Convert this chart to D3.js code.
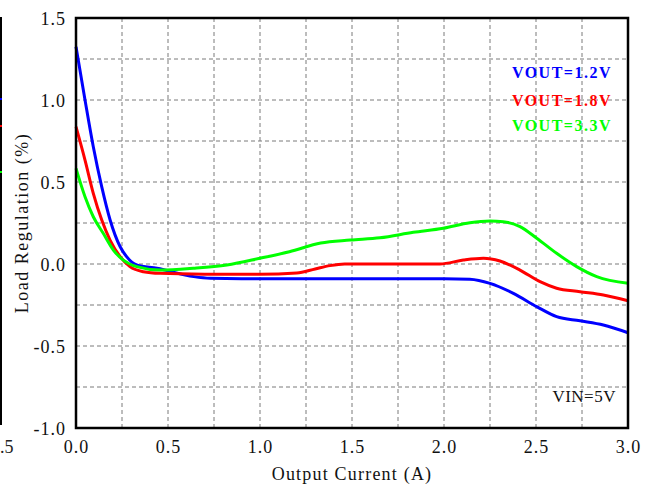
<!DOCTYPE html>
<html>
<head>
<meta charset="utf-8">
<script src="https://cdn.jsdelivr.net/npm/d3@7"></script>
<style>
  html, body { margin: 0; padding: 0; background: #fff; }
  svg { display: block; }
  text { font-family: "Liberation Serif", "Times New Roman", serif; }
</style>
</head>
<body>
<svg id="chart" width="651" height="488"></svg>
<script>
// Load regulation vs output current, VIN = 5V
const current1v2 = [0, 0.049, 0.094, 0.14, 0.185, 0.24, 0.275, 0.33, 0.44, 0.64, 0.73, 0.9, 1.2, 1.6, 2.0, 2.14, 2.25, 2.377, 2.504, 2.612, 2.739, 2.866, 3.0];
const reg1v2     = [1.325, 1.0, 0.715, 0.47, 0.27, 0.105, 0.045, -0.006, -0.026, -0.077, -0.087, -0.09, -0.09, -0.09, -0.09, -0.093, -0.118, -0.179, -0.26, -0.321, -0.346, -0.372, -0.419];

const current1v8 = [0, 0.049, 0.094, 0.14, 0.185, 0.24, 0.293, 0.366, 0.457, 0.7, 1.0, 1.2, 1.3, 1.38, 1.46, 1.65, 1.978, 2.105, 2.214, 2.304, 2.413, 2.522, 2.612, 2.739, 2.866, 3.0];
const reg1v8     = [0.837, 0.634, 0.431, 0.268, 0.146, 0.045, -0.016, -0.047, -0.057, -0.062, -0.063, -0.055, -0.03, -0.01, 0.0, 0.0, 0.0, 0.024, 0.035, 0.018, -0.037, -0.108, -0.148, -0.169, -0.189, -0.224];

const current3v3 = [0, 0.049, 0.094, 0.148, 0.203, 0.257, 0.33, 0.457, 0.638, 0.82, 1.0, 1.16, 1.33, 1.49, 1.652, 1.833, 1.996, 2.141, 2.25, 2.322, 2.413, 2.504, 2.612, 2.721, 2.83, 3.0];
const reg3v3     = [0.583, 0.41, 0.288, 0.187, 0.085, 0.024, -0.016, -0.037, -0.026, -0.006, 0.035, 0.075, 0.128, 0.146, 0.16, 0.193, 0.218, 0.252, 0.262, 0.258, 0.228, 0.157, 0.065, -0.016, -0.077, -0.118];

const seriesNames  = ["VOUT=1.2V", "VOUT=1.8V", "VOUT=3.3V"];
const seriesColors = ["#0000ff", "#ff0000", "#00ff00"];

const xTicks = [0, 0.5, 1.0, 1.5, 2.0, 2.5, 3.0];
const yTicks = [1.5, 1.0, 0.5, 0.0, -0.5, -1.0];
const xGrid = d3.range(0, 3.0001, 0.25);
const yGrid = d3.range(-1.0, 1.5001, 0.25);

const series = [
  { name: seriesNames[0], color: seriesColors[0], pts: current1v2.map((c, i) => [c, reg1v2[i]]) },
  { name: seriesNames[1], color: seriesColors[1], pts: current1v8.map((c, i) => [c, reg1v8[i]]) },
  { name: seriesNames[2], color: seriesColors[2], pts: current3v3.map((c, i) => [c, reg3v3[i]]) }
];

const svg = d3.select("#chart");
const plotLeft = 76, plotRight = 628, plotTop = 18, plotBottom = 428;

const x = d3.scaleLinear().domain([0, 3]).range([plotLeft, plotRight]);
const y = d3.scaleLinear().domain([-1, 1.5]).range([plotBottom, plotTop]);

// fragment of a neighbouring panel at the left edge
svg.append("line").attr("x1", 1).attr("x2", 1).attr("y1", 17).attr("y2", 425)
  .attr("stroke", "#000").attr("stroke-width", 2);
[[99, "#0000ff"], [126, "#ff0000"], [172, "#00ff00"]].forEach(([yy, c]) => {
  svg.append("line").attr("x1", 0).attr("x2", 2).attr("y1", yy).attr("y2", yy)
    .attr("stroke", c).attr("stroke-width", 2);
});
svg.append("text").attr("x", 0).attr("y", 453).attr("text-anchor", "start")
  .attr("font-size", 18).attr("fill", "#222").text(".5");

// dashed grid
const grid = svg.append("g").attr("stroke", "#7a7a7a").attr("stroke-width", 1)
  .attr("stroke-dasharray", "4,3");
xGrid.filter(v => v > 0 && v < 3).forEach(v => {
  grid.append("line").attr("x1", x(v)).attr("x2", x(v)).attr("y1", plotTop).attr("y2", plotBottom);
});
yGrid.filter(v => v > -1 && v < 1.5).forEach(v => {
  grid.append("line").attr("x1", plotLeft).attr("x2", plotRight).attr("y1", y(v)).attr("y2", y(v));
});

// curves
const line = d3.line().x(d => x(d[0])).y(d => y(d[1])).curve(d3.curveMonotoneX);
series.forEach(s => {
  svg.append("path").datum(s.pts).attr("d", line)
    .attr("fill", "none").attr("stroke", s.color).attr("stroke-width", 3)
    .attr("stroke-linejoin", "round");
});

// frame
svg.append("rect").attr("x", plotLeft).attr("y", plotTop)
  .attr("width", plotRight - plotLeft).attr("height", plotBottom - plotTop)
  .attr("fill", "none").attr("stroke", "#000").attr("stroke-width", 2.5);

// axes labels
const tickFont = 18;
const xAxis = d3.axisBottom(x).tickValues(xTicks).tickSize(0).tickPadding(0).tickFormat(d3.format(".1f"));
const gx = svg.append("g").attr("transform", `translate(0,${plotBottom})`).call(xAxis);
gx.select(".domain").remove();
gx.selectAll("text").attr("y", 25).attr("dy", 0).attr("font-size", tickFont)
  .attr("font-family", "Liberation Serif, serif").attr("fill", "#111").attr("letter-spacing", 1);

const yAxis = d3.axisLeft(y).tickValues(yTicks).tickSize(0).tickPadding(0)
  .tickFormat(d => d3.format(".1f")(d).replace("\u2212", "-"));
const gy = svg.append("g").attr("transform", `translate(${plotLeft - 10},0)`).call(yAxis);
gy.select(".domain").remove();
gy.selectAll("text").attr("x", 0).attr("dy", "0.35em").attr("font-size", tickFont)
  .attr("font-family", "Liberation Serif, serif").attr("fill", "#111").attr("letter-spacing", 1);

svg.append("text").attr("x", (plotLeft + plotRight) / 2).attr("y", 480).attr("text-anchor", "middle")
  .attr("font-size", 18).attr("letter-spacing", 1.2).attr("fill", "#111").text("Output Current (A)");

svg.append("text").attr("transform", `translate(28,${(plotTop + plotBottom) / 2}) rotate(-90)`)
  .attr("text-anchor", "middle").attr("font-size", 18).attr("letter-spacing", 1.5)
  .attr("fill", "#111").text("Load Regulation (%)");

// legend
const legendY = [72, 100, 125];
series.forEach((s, i) => {
  svg.append("text").attr("x", 612).attr("y", legendY[i]).attr("dy", "0.35em")
    .attr("text-anchor", "end").attr("font-size", 16).attr("font-weight", "bold")
    .attr("letter-spacing", 1.5).attr("fill", s.color).text(s.name);
});

svg.append("text").attr("x", 616).attr("y", 396).attr("dy", "0.35em").attr("text-anchor", "end")
  .attr("font-size", 17).attr("letter-spacing", 0.5).attr("fill", "#111").text("VIN=5V");
</script>
</body>
</html>
